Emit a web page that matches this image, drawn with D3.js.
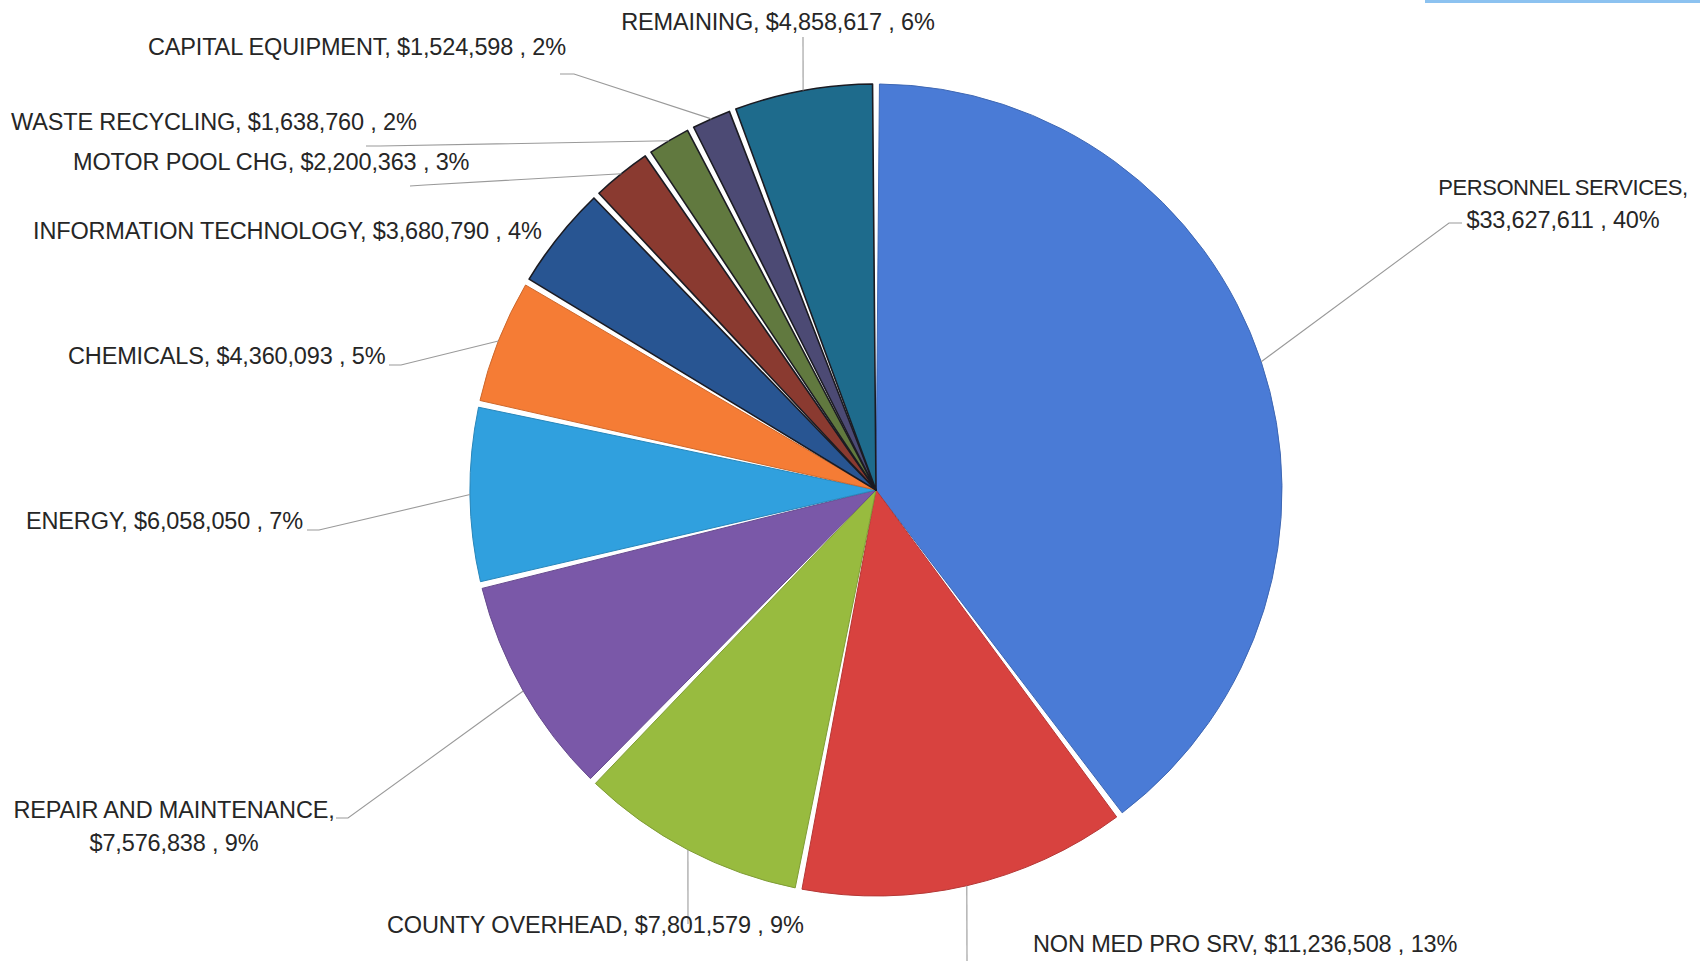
<!DOCTYPE html>
<html>
<head>
<meta charset="utf-8">
<script src="https://cdn.jsdelivr.net/npm/d3@7"></script>
<style>
  html, body { margin: 0; padding: 0; background: #fff; }
  svg { display: block; }
  .lbl { font-family: "Liberation Sans", Arial, sans-serif; font-size: 23.5px; letter-spacing: -0.15px; fill: #262626; }
  .lbl .tight { font-size: 22px; letter-spacing: -0.45px; }
</style>
</head>
<body>
<svg class="budgetPie"></svg>
<script>
// slice data, clockwise from 12 o'clock
const categories = ['PERSONNEL SERVICES', 'NON MED PRO SRV', 'COUNTY OVERHEAD', 'REPAIR AND MAINTENANCE',
  'ENERGY', 'CHEMICALS', 'INFORMATION TECHNOLOGY', 'MOTOR POOL CHG', 'WASTE RECYCLING',
  'CAPITAL EQUIPMENT', 'REMAINING'];
const amounts = [33627611, 11236508, 7801579, 7576838, 6058050, 4360093, 3680790, 2200363, 1638760, 1524598, 4858617];
const percents = ['40%', '13%', '9%', '9%', '7%', '5%', '4%', '3%', '2%', '2%', '6%'];

const colors = ['#4a7bd6', '#d8423f', '#98bb3f', '#7a58a8', '#30a0de', '#f57c35',
  '#285592', '#8a3a30', '#61793f', '#4c4a74', '#1e6b8c'];
// dark outline on the thin wedges
const outlined = [false, false, false, false, false, false, true, true, true, true, true];

const width = 1700, height = 961;
const cx = 876, cy = 490, radius = 406;

// label placement: anchor, x, first baseline, split into two lines?, leader path from label side
const labelLayout = [
  { anchor: 'middle', x: 1563, y: 195, wrap: true, tight: true, lead: [[1462, 223], [1449, 223]] },
  { anchor: 'start', x: 1033, y: 952, wrap: false, lead: [[967, 961]] },
  { anchor: 'start', x: 387, y: 933, wrap: false, lead: [[688, 924]] },
  { anchor: 'middle', x: 174, y: 818, wrap: true, lead: [[336, 818], [348, 818]] },
  { anchor: 'start', x: 26, y: 529, wrap: false, lead: [[307, 530], [319, 530]] },
  { anchor: 'start', x: 68, y: 364, wrap: false, lead: [[389, 365], [401, 365]] },
  { anchor: 'start', x: 33, y: 239, wrap: false, lead: null },
  { anchor: 'start', x: 73, y: 170, wrap: false, lead: [[410, 186], [425, 185]] },
  { anchor: 'start', x: 11, y: 130, wrap: false, lead: [[366, 146], [380, 146]] },
  { anchor: 'end', x: 566, y: 55, wrap: false, lead: [[560, 74], [574, 74]] },
  { anchor: 'middle', x: 778, y: 30, wrap: false, lead: [[803, 37]] }
];

const data = categories.map((c, i) => ({ name: c, value: amounts[i], pct: percents[i], color: colors[i], outlined: outlined[i], layout: labelLayout[i] }));

const svg = d3.select('.budgetPie').attr('width', width).attr('height', height);

// scanner streak at the top right
svg.append('rect').attr('x', 1425).attr('y', 0).attr('width', 275).attr('height', 3).attr('fill', '#8cc2f0');

const g = svg.append('g').attr('transform', 'translate(' + cx + ',' + cy + ')');

const pie = d3.pie().sort(null).value(d => d.value);
const arcs = pie(data);

const arc = d3.arc().innerRadius(0).outerRadius(radius).padAngle(0.017);
const edgeArc = d3.arc().innerRadius(radius).outerRadius(radius);

g.selectAll('path.slice')
  .data(arcs)
  .enter().append('path')
    .attr('class', 'slice')
    .attr('d', arc)
    .attr('fill', d => d.data.color)
    .attr('stroke', d => d.data.outlined ? '#1b1b22' : d3.color(d.data.color).darker(0.5))
    .attr('stroke-width', d => d.data.outlined ? 1.6 : 1)
    .attr('stroke-linejoin', 'round');

// leader lines
const fmt = d3.format(',');
const line = d3.line();
svg.append('g')
  .selectAll('path')
  .data(arcs.filter(d => d.data.layout.lead))
  .enter().append('path')
    .attr('d', d => {
      const p = edgeArc.centroid(d);
      return line([...d.data.layout.lead, [p[0] + cx, p[1] + cy]]);
    })
    .attr('fill', 'none')
    .attr('stroke', '#9a9a9a')
    .attr('stroke-width', 1.1);

// labels
const labels = svg.append('g')
  .selectAll('text')
  .data(data)
  .enter().append('text')
    .attr('class', 'lbl')
    .attr('text-anchor', d => d.layout.anchor)
    .attr('x', d => d.layout.x)
    .attr('y', d => d.layout.y);

labels.each(function(d) {
  const t = d3.select(this);
  const valueText = '$' + fmt(d.value) + ' , ' + d.pct;
  if (d.layout.wrap) {
    t.append('tspan').attr('x', d.layout.x).classed('tight', !!d.layout.tight).text(d.name + ',');
    t.append('tspan').attr('x', d.layout.x).attr('dy', 33).text(valueText);
  } else {
    t.text(d.name + ', ' + valueText);
  }
});
</script>
</body>
</html>
